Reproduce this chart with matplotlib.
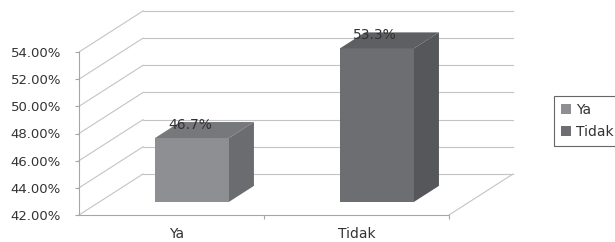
import matplotlib.pyplot as plt
from matplotlib.patches import Polygon, Patch
from matplotlib.ticker import FuncFormatter

# data
categories = ['Ya', 'Tidak']
values = [46.7, 53.3]
value_labels = ['46.7%', '53.3%']
yticks = [42, 44, 46, 48, 50, 52, 54]

front_colors = ['#8e8f92', '#6d6e71']
top_colors = ['#77787b', '#5e5f62']
side_colors = ['#6b6c6f', '#56575a']
grid_col = '#c4c4c4'
text_col = '#333333'

# fake 3d: depth of the box in data units (x in categories, y in percent)
DX, DY = 0.346, 3.02
bar_w = 0.4
d0, d1 = 0.32, 0.71  # front/back of the bars as fraction of full depth

fig = plt.figure(figsize=(6.15, 2.42), dpi=100)
ax = fig.add_axes([79 / 615, 27 / 242, 370 / 615, 163 / 242])
ax.set_xlim(-0.5, 1.5)
ax.set_ylim(yticks[0], yticks[-1])

# side wall and back wall gridlines
for v in yticks:
    ax.plot([-0.5, -0.5 + DX], [v, v + DY], color=grid_col, lw=0.8, clip_on=False, zorder=1)
    ax.plot([-0.5 + DX, 1.5 + DX], [v + DY, v + DY], color=grid_col, lw=0.8, clip_on=False, zorder=1)
# right edge of the floor
ax.plot([1.5, 1.5 + DX], [yticks[0], yticks[0] + DY], color=grid_col, lw=0.8, clip_on=False, zorder=1)

ddx, ddy = (d1 - d0) * DX, (d1 - d0) * DY
base = yticks[0]
for i, v in enumerate(values):
    xc = i + d0 * DX
    y0 = base + d0 * DY
    top = v + d0 * DY
    ax.bar(xc, v - base, width=bar_w, bottom=y0, color=front_colors[i], zorder=3, clip_on=False)
    x0 = xc - bar_w / 2
    x1 = xc + bar_w / 2
    ax.add_patch(Polygon([(x0, top), (x1, top), (x1 + ddx, top + ddy), (x0 + ddx, top + ddy)],
                         closed=True, facecolor=top_colors[i], edgecolor='none', zorder=3, clip_on=False))
    ax.add_patch(Polygon([(x1, y0), (x1 + ddx, y0 + ddy), (x1 + ddx, top + ddy), (x1, top)],
                         closed=True, facecolor=side_colors[i], edgecolor='none', zorder=3, clip_on=False))
    ax.text(i + 0.1, v + 1.94, value_labels[i], ha='center', va='center', fontsize=10,
            color=text_col, zorder=5, clip_on=False)

for s in ['top', 'right']:
    ax.spines[s].set_visible(False)
for s in ['left', 'bottom']:
    ax.spines[s].set_color('#a6a6a6')
    ax.spines[s].set_linewidth(0.8)

ax.set_yticks(yticks)
ax.yaxis.set_major_formatter(FuncFormatter(lambda v, p: '{:.2f}%'.format(v)))
ax.tick_params(axis='y', length=3, width=0.8, color='#a6a6a6', pad=10, labelsize=9.5, labelcolor=text_col)

ax.set_xticks([0.5, 1.5])
ax.set_xticklabels([])
ax.set_xticks([0.03, 1], minor=True)
ax.set_xticklabels(categories, minor=True)
ax.tick_params(axis='x', which='major', length=3, width=0.8, color='#a6a6a6')
ax.tick_params(axis='x', which='minor', length=0, pad=9, labelsize=10, labelcolor=text_col)

handles = [Patch(facecolor=front_colors[i], label=categories[i]) for i in range(len(categories))]
leg = fig.legend(handles=handles, loc='center left', bbox_to_anchor=(554 / 615, 121 / 242),
                 fontsize=10, frameon=True, fancybox=False, edgecolor='#404040',
                 handlelength=0.7, handleheight=0.7, handletextpad=0.4, borderaxespad=0,
                 labelspacing=0.55, borderpad=0.5)
leg.get_frame().set_linewidth(0.8)
for t in leg.get_texts():
    t.set_color(text_col)

fig.savefig('out.png', dpi=100)
